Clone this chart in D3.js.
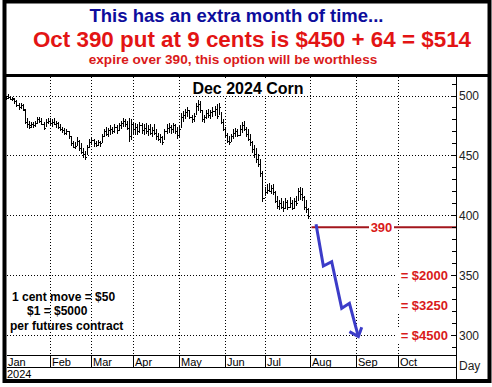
<!DOCTYPE html>
<html>
<head>
<meta charset="utf-8">
<script src="https://cdn.jsdelivr.net/npm/d3@7"></script>
<style>
body { margin: 0; background: #fff; }
svg { display: block; font-family: "Liberation Sans", Arial, sans-serif; }
</style>
</head>
<body>
<svg id="chart" width="492" height="387"></svg>
<script>
// month labels and the trading-day index where each month begins
const months = ["Jan", "Feb", "Mar", "Apr", "May", "Jun", "Jul", "Aug", "Sep", "Oct"];
const monthStart = [0, 21, 41, 61, 83, 105, 124, 146, 168, 188];
const priceTicks = [300, 350, 400, 450, 500];

// Dec 2024 corn daily bars (cents), Jan 2 .. Jul 31
const opens = [497,498,499,497,497,495,492,490,492,488,478,476,475,476,475,477,480,479,476,473,478,479,477,478,476,477,474,472,471,469,
  470,466,460,457,458,462,456,453,451,449,457,461,463,460,459,461,460,466,470,468,471,472,470,474,471,475,477,479,476,473,
  466,476,472,474,470,475,471,473,470,472,469,471,469,466,464,465,461,470,473,474,472,475,470,467,472,482,484,486,488,482,
  480,483,491,493,488,480,482,485,484,486,487,489,483,490,478,472,467,462,461,466,469,470,467,472,475,472,468,464,461,455,
  451,447,443,435,414,419,421,420,423,419,412,408,410,407,406,411,407,410,406,412,410,420,418,415,407,405];
const highs = [500,501,500,499,498,496,494,494,493,489,481,479,478,478,479,482,482,481,478,480,481,481,480,481,479,478,476,474,473,472,
  470,466,462,461,465,463,460,456,454,459,464,465,464,462,463,462,468,472,474,473,475,474,476,475,477,479,481,480,479,481,
  480,478,477,476,478,477,476,477,475,476,474,476,472,469,468,466,472,476,477,475,477,476,474,475,485,487,489,490,488,484,
  485,494,496,495,488,484,488,489,488,490,491,493,494,486,480,474,469,466,468,472,473,472,475,478,479,474,472,468,462,459,
  456,451,447,437,424,426,427,425,426,420,416,413,414,412,414,413,415,413,414,416,423,424,423,416,413,406];
const lows = [496,497,496,495,493,490,488,489,487,476,473,472,473,473,474,476,477,475,471,474,476,475,474,475,473,472,470,469,467,467,
  464,458,456,455,458,454,451,448,446,450,456,459,457,457,458,457,460,465,466,465,467,468,469,468,470,472,474,474,471,461,
  463,468,467,467,469,468,467,468,466,467,465,467,463,462,460,459,463,468,469,468,469,468,464,465,473,478,480,482,480,477,
  478,484,487,485,478,477,480,481,480,482,483,480,484,476,470,465,460,459,461,464,465,465,466,469,470,465,462,458,452,448,
  444,440,432,411,416,418,419,418,417,410,405,404,405,403,405,404,406,404,405,408,412,413,412,404,402,397];
const closes = [498,499,497,498,495,492,490,492,489,478,476,474,476,475,477,480,479,476,473,478,479,477,478,476,477,474,472,471,469,470,
  466,460,457,458,462,456,453,451,449,457,461,463,460,459,461,460,466,470,468,471,472,470,474,471,475,477,479,476,473,466,
  476,472,474,470,475,471,473,470,472,469,471,469,466,464,465,461,470,473,474,472,475,470,467,472,482,484,486,488,482,480,
  483,491,493,488,480,482,485,484,486,487,489,483,490,478,472,467,462,461,466,469,470,467,472,475,472,468,464,461,455,451,
  447,443,435,414,419,421,420,423,419,412,408,410,407,406,411,407,410,406,412,410,420,418,415,407,405,399];

// annotations
const strike = 390;
const pathIdx = [148.7, 152.2, 156.2, 161.0, 164.7, 169.0];
const pathPrice = [392.4, 357.6, 361.2, 322.3, 326.5, 298.6];
const headIdx = [164.7, 169.0, 170.6];
const headPrice = [302.8, 298.6, 306.4];
const costLabels = ["= $2000", "= $3250", "= $4500"];
const costPrices = [350, 325, 300];
const noteLines = ["1 cent move = $50", "$1 = $5000", "per futures contract"];

const svg = d3.select("#chart");
const plotLeft = 7, plotRight = 456, plotTop = 77, plotBottom = 355;

const x = d3.scaleLinear().domain([0, 188]).range([6, 398]);
const y = d3.scaleLinear().domain([300, 500]).range([335, 95.5]);

// header
svg.append("text").attr("x", 236.5).attr("y", 22).attr("text-anchor", "middle")
  .attr("font-size", 18.5).attr("font-weight", "bold").attr("fill", "#0d0d9c")
  .text("This has an extra month of time...");
svg.append("text").attr("x", 252).attr("y", 47).attr("text-anchor", "middle")
  .attr("font-size", 22.4).attr("font-weight", "bold").attr("fill", "#e31414")
  .text("Oct 390 put at 9 cents is $450 + 64 = $514");
svg.append("text").attr("x", 233).attr("y", 63.5).attr("text-anchor", "middle")
  .attr("font-size", 13.6).attr("font-weight", "bold").attr("fill", "#d91a1a")
  .text("expire over 390, this option will be worthless");

// dotted grid
const grid = svg.append("g").attr("stroke", "#000").attr("stroke-dasharray", "1,2")
  .attr("shape-rendering", "crispEdges");
grid.selectAll(".hg").data(priceTicks).join("line")
  .attr("x1", plotLeft).attr("x2", plotRight)
  .attr("y1", d => Math.round(y(d)) + 0.5).attr("y2", d => Math.round(y(d)) + 0.5);
grid.selectAll(".vg").data(monthStart.slice(1)).join("line")
  .attr("x1", d => Math.round(x(d)) + 0.5).attr("x2", d => Math.round(x(d)) + 0.5)
  .attr("y1", plotTop).attr("y2", plotBottom);

// chart title with white box
const title = svg.append("g");
title.append("rect").attr("x", 186).attr("y", 80).attr("width", 124).attr("height", 16).attr("fill", "#fff");
title.append("text").attr("x", 248).attr("y", 94).attr("text-anchor", "middle")
  .attr("font-size", 16).attr("font-weight", "bold").text("Dec 2024 Corn");

// bars
const bars = svg.append("g").attr("stroke", "#000").attr("shape-rendering", "crispEdges");
const idx = d3.range(closes.length);
bars.selectAll(".hl").data(idx).join("line")
  .attr("x1", i => Math.round(x(i)) + 0.5).attr("x2", i => Math.round(x(i)) + 0.5)
  .attr("y1", i => y(highs[i])).attr("y2", i => y(lows[i]));
bars.selectAll(".op").data(idx).join("line")
  .attr("x1", i => Math.round(x(i)) - 1).attr("x2", i => Math.round(x(i)))
  .attr("y1", i => Math.round(y(opens[i])) + 0.5).attr("y2", i => Math.round(y(opens[i])) + 0.5);
bars.selectAll(".cl").data(idx).join("line")
  .attr("x1", i => Math.round(x(i)) + 1).attr("x2", i => Math.round(x(i)) + 2)
  .attr("y1", i => Math.round(y(closes[i])) + 0.5).attr("y2", i => Math.round(y(closes[i])) + 0.5);

// strike line
svg.append("line").attr("x1", x(146.5)).attr("x2", plotRight)
  .attr("y1", y(strike)).attr("y2", y(strike))
  .attr("stroke", "#a3161c").attr("stroke-width", 2);
svg.append("rect").attr("x", 369).attr("y", y(strike) - 7).attr("width", 25).attr("height", 14).attr("fill", "#fff");
svg.append("text").attr("x", 381.5).attr("y", y(strike) + 4.5).attr("text-anchor", "middle")
  .attr("font-size", 13).attr("font-weight", "bold").attr("fill", "#d91a1a").text(strike);

// cost labels
const costs = svg.append("g");
costs.selectAll("rect").data(costPrices).join("rect")
  .attr("x", 396).attr("y", d => y(d) - 7).attr("width", 54).attr("height", 14).attr("fill", "#fff");
costs.selectAll("text").data(costLabels).join("text")
  .attr("x", 448).attr("y", (d, i) => y(costPrices[i]) + 5).attr("text-anchor", "end")
  .attr("font-size", 13).attr("font-weight", "bold").attr("fill", "#d91a1a").text(d => d);

// blue arrow
const line = d3.line().x(d => x(d[0])).y(d => y(d[1]));
svg.append("path").attr("d", line(d3.zip(pathIdx, pathPrice)))
  .attr("fill", "none").attr("stroke", "#3c3cc8").attr("stroke-width", 3).attr("stroke-linejoin", "miter");
svg.append("path").attr("d", line(d3.zip(headIdx, headPrice)))
  .attr("fill", "none").attr("stroke", "#3c3cc8").attr("stroke-width", 3);

// note text
svg.append("g").selectAll("text").data(noteLines).join("text")
  .attr("x", (d, i) => [12, 27, 10][i]).attr("y", (d, i) => [301, 314.5, 330][i])
  .attr("font-size", 12).attr("font-weight", "bold").text(d => d);

// right axis
const axisG = svg.append("g").attr("shape-rendering", "crispEdges");
axisG.append("line").attr("x1", plotRight + 0.5).attr("x2", plotRight + 0.5)
  .attr("y1", plotTop).attr("y2", 381).attr("stroke", "#000");
axisG.selectAll(".mt").data(d3.range(290, 520, 10)).join("line")
  .attr("x1", plotRight - 4).attr("x2", plotRight)
  .attr("y1", d => Math.round(y(d)) + 0.5).attr("y2", d => Math.round(y(d)) + 0.5)
  .attr("stroke", "#000");
axisG.selectAll("text").data(priceTicks).join("text")
  .attr("x", 459).attr("y", d => y(d) + 4.5)
  .attr("font-size", 12).attr("fill", "#222").text(d => d);
svg.append("text").attr("x", 459).attr("y", 370).attr("font-size", 12).attr("fill", "#222").text("Day");

// bottom time axis
const bottom = svg.append("g").attr("shape-rendering", "crispEdges").attr("stroke", "#000");
bottom.append("line").attr("x1", plotLeft).attr("x2", plotRight).attr("y1", plotBottom + 0.5).attr("y2", plotBottom + 0.5);
bottom.append("line").attr("x1", plotLeft).attr("x2", plotRight).attr("y1", 367.5).attr("y2", 367.5);
bottom.selectAll(".sep").data(monthStart.slice(1)).join("line")
  .attr("x1", d => Math.round(x(d)) + 0.5).attr("x2", d => Math.round(x(d)) + 0.5)
  .attr("y1", plotBottom).attr("y2", 367);
svg.append("g").selectAll("text").data(months).join("text")
  .attr("x", (d, i) => i === 0 ? 8 : Math.round(x(monthStart[i])) + 2).attr("y", 365.5)
  .attr("font-size", 11).text(d => d);
svg.append("text").attr("x", 7).attr("y", 377.5).attr("font-size", 11).text("2024");

// frame
svg.append("rect").attr("x", 4.5).attr("y", 1.5).attr("width", 485).attr("height", 379.5)
  .attr("fill", "none").attr("stroke", "#000").attr("stroke-width", 4);
svg.append("line").attr("x1", 4).attr("x2", 490).attr("y1", 75.5).attr("y2", 75.5)
  .attr("stroke", "#000").attr("stroke-width", 3);
</script>
</body>
</html>
